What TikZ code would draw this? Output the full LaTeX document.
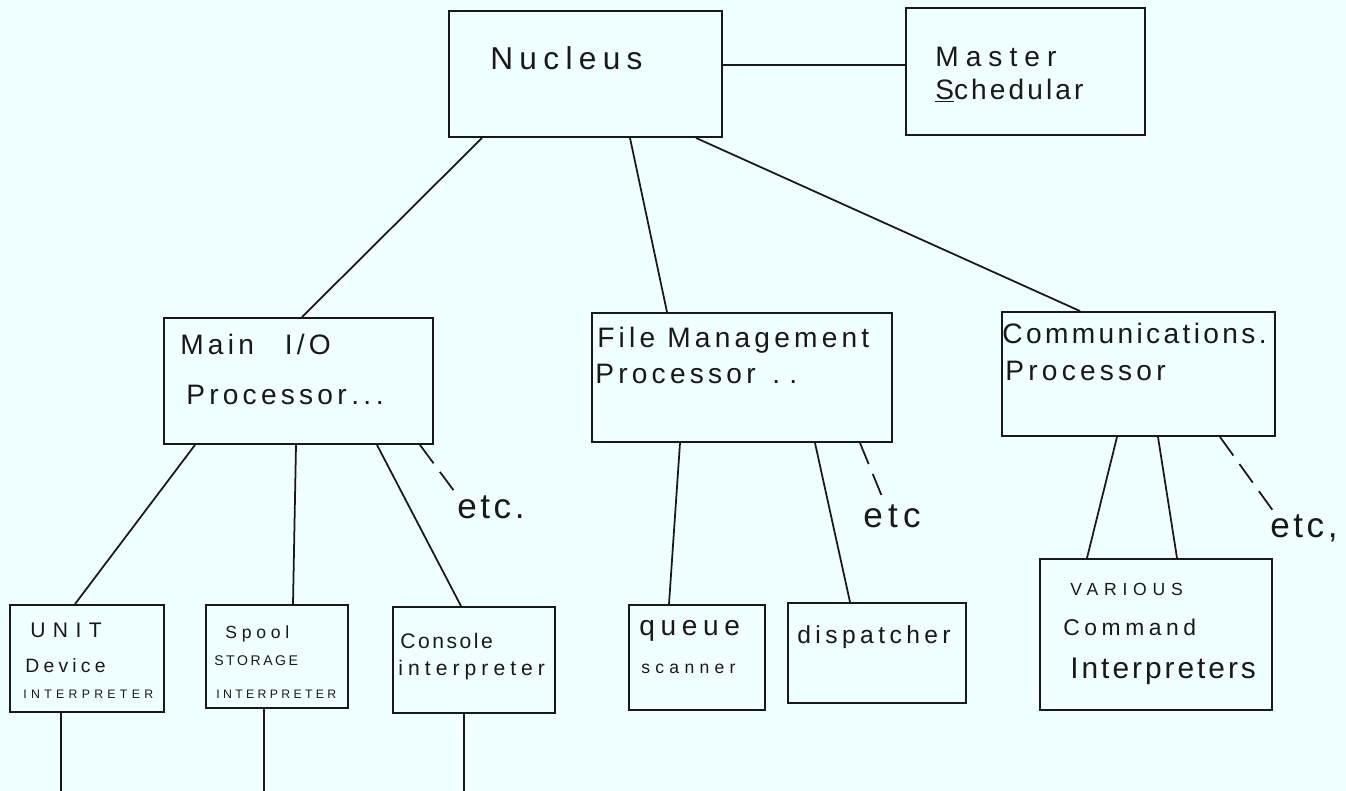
\documentclass[tikz,border=0pt]{standalone}
\usepackage{fontspec}
\setmainfont{Liberation Sans}
\newcommand{\hw}[2]{\fontsize{#1}{#1}\selectfont\addfontfeature{LetterSpace=#2}}
\definecolor{paper}{RGB}{240,255,255}
\definecolor{ink}{RGB}{25,25,25}

\begin{document}
\begin{tikzpicture}[
      x=0.02cm, y=-0.02cm,
      box/.style  = {rectangle, draw=ink, line width=1.1pt, inner sep=0pt},
      lbl/.style  = {anchor=base west, inner sep=0pt, text=ink},
      link/.style = {draw=ink, line width=1pt},
      etcl/.style = {link, dash pattern=on 13pt off 6pt},
    ]
    \fill[paper] (0,0) rectangle (1346,791);
    \useasboundingbox (0,0) rectangle (1346,791);

    % Top level
    \node[box, minimum width=5.46cm, minimum height=2.52cm] (nuc)  at (585.5,74)   {};
    \node[box, minimum width=4.78cm, minimum height=2.54cm] (mast) at (1025.5,71.5) {};
    \node[lbl, font=\hw{18}{20}] (nuc-t)  at (490,70) {Nucleus};
    \node[lbl, font=\hw{16}{25}] (mast-t) at (935,66) {Master};
    \node[lbl, font=\hw{16}{11}] (mast-u) at (935,99) {\underline{S}chedular};

    % Processors
    \node[box, minimum width=5.38cm, minimum height=2.52cm] (mio) at (298.5,381) {};
    \node[box, minimum width=6.00cm, minimum height=2.58cm] (fmp) at (742,377.5)  {};
    \node[box, minimum width=5.46cm, minimum height=2.48cm] (cmp) at (1138.5,374) {};
    \node[lbl, font=\hw{16}{15}] (mio-t)  at (180,354)  {Main\hspace{1.1em}I/O};
    \node[lbl, font=\hw{16}{15}] (mio-u)  at (186,404)  {Processor\,..\,.};
    \node[lbl, font=\hw{16}{15}] (fmp-t)  at (597,347)  {File Management};
    \node[lbl, font=\hw{16}{15}] (fmp-u)  at (595,383)  {Processor\ \,.\,\,.};
    \node[lbl, font=\hw{16}{12}] (cmp-t)  at (1002,343) {Communications.};
    \node[lbl, font=\hw{16}{15}] (cmp-u)  at (1005,380) {Processor};

    % Interpreters and helpers
    \node[box, minimum width=3.08cm, minimum height=2.14cm] (unit)  at (87,658.5)   {};
    \node[box, minimum width=2.84cm, minimum height=2.06cm] (spool) at (277,656.5)  {};
    \node[box, minimum width=3.24cm, minimum height=2.12cm] (cons)  at (474,660)    {};
    \node[box, minimum width=2.72cm, minimum height=2.10cm] (que)   at (697,657.5)  {};
    \node[box, minimum width=3.56cm, minimum height=2.00cm] (disp)  at (877,653)    {};
    \node[box, minimum width=4.64cm, minimum height=3.02cm] (var)   at (1156,634.5) {};

    \node[lbl, font=\hw{12}{35}] (unit-t)  at (30,637)  {UNIT};
    \node[lbl, font=\hw{11}{22}] (unit-u)  at (25,672)  {Device};
    \node[lbl, font=\hw{7}{35}]  (unit-v)  at (23,698)  {INTERPRETER};
    \node[lbl, font=\hw{10}{27}] (spool-t) at (225,638) {Spool};
    \node[lbl, font=\hw{8}{18}]  (spool-u) at (214,665) {STORAGE};
    \node[lbl, font=\hw{7}{27}]  (spool-v) at (216,698) {INTERPRETER};
    \node[lbl, font=\hw{12}{12}] (cons-t)  at (400,648) {Console};
    \node[lbl, font=\hw{12}{24}] (cons-u)  at (398,675) {interpreter};
    \node[lbl, font=\hw{16}{20}] (que-t)   at (639,635) {queue};
    \node[lbl, font=\hw{10}{30}] (que-u)   at (641,673) {scanner};
    \node[lbl, font=\hw{14}{18}] (disp-t)  at (797,643) {dispatcher};
    \node[lbl, font=\hw{10}{33}] (var-t)   at (1070,595) {VARIOUS};
    \node[lbl, font=\hw{13}{20}] (var-u)   at (1063,635) {Command};
    \node[lbl, font=\hw{17}{10}] (var-v)   at (1070,678) {Interpreters};

    \node[lbl, font=\hw{20}{10}] (etc1) at (457,518)  {etc.};
    \node[lbl, font=\hw{20}{15}] (etc2) at (863,527)  {etc};
    \node[lbl, font=\hw{20}{10}] (etc3) at (1270,537) {etc,};

    \coordinate (unit-end)  at (61,791);
    \coordinate (spool-end) at (264,791);
    \coordinate (cons-end)  at (464,791);

    % Links from the nucleus
    \draw[link] (nuc.east |- 0,65) -- (mast.west |- 0,65);
    \draw[link] (482,0 |- nuc.south) -- (302,0 |- mio.north);
    \draw[link] (630,0 |- nuc.south) -- (667,0 |- fmp.north);
    \draw[link] (696,0 |- nuc.south) -- (1080,0 |- cmp.north);

    % Links to the lower level
    \draw[link] (195,0 |- mio.south) -- (75,0 |- unit.north);
    \draw[link] (296,0 |- mio.south) -- (293,0 |- spool.north);
    \draw[link] (377,0 |- mio.south) -- (461,0 |- cons.north);
    \draw[link] (680,0 |- fmp.south) -- (669,0 |- que.north);
    \draw[link] (815,0 |- fmp.south) -- (850,0 |- disp.north);
    \draw[link] (1117,0 |- cmp.south) -- (1087,0 |- var.north);
    \draw[link] (1158,0 |- cmp.south) -- (1177,0 |- var.north);

    % etc.
    \draw[etcl] (420,0 |- mio.south)  -- (etc1.north west);
    \draw[etcl] (860,0 |- fmp.south)  -- ([xshift=-4pt]etc2.north);
    \draw[etcl] (1220,0 |- cmp.south) -- ([xshift=3pt]etc3.north west);

    % Lines leaving the page
    \draw[link] (unit.south -| unit-end)   -- (unit-end);
    \draw[link] (spool.south -| spool-end) -- (spool-end);
    \draw[link] (cons.south -| cons-end)   -- (cons-end);
\end{tikzpicture}
\end{document}
